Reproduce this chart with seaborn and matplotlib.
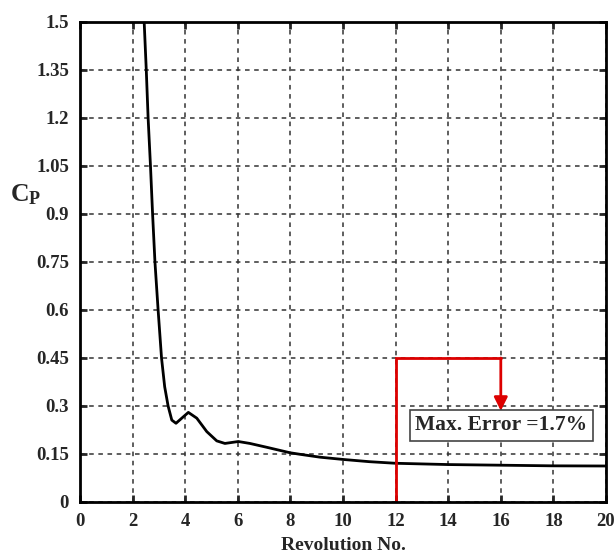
import matplotlib
matplotlib.use("Agg")
import matplotlib.pyplot as plt
import seaborn as sns
import pandas as pd

rev = [2.40, 2.44, 2.52, 2.59, 2.68, 2.76, 2.85, 2.97, 3.10, 3.22, 3.35, 3.49, 3.65,
       3.87, 4.12, 4.44, 4.82, 5.20, 5.51, 6.02, 6.46, 7.10, 7.98, 8.37, 9.13, 10.0,
       11.0, 12.0, 13.0, 14.0, 16.0, 18.0, 20.0]
cp = [1.55, 1.50, 1.35, 1.20, 1.05, 0.90, 0.75, 0.60, 0.45, 0.36, 0.30, 0.256, 0.246,
      0.262, 0.280, 0.262, 0.220, 0.191, 0.183, 0.189, 0.183, 0.171, 0.154, 0.149,
      0.140, 0.133, 0.126, 0.121, 0.119, 0.117, 0.115, 0.113, 0.1125]

x_ticks = [0, 2, 4, 6, 8, 10, 12, 14, 16, 18, 20]
y_ticks = [0, 0.15, 0.3, 0.45, 0.6, 0.75, 0.9, 1.05, 1.2, 1.35, 1.5]
y_tick_labels = ["0", "0.15", "0.3", "0.45", "0.6", "0.75", "0.9", "1.05", "1.2", "1.35", "1.5"]

err_x = [12, 12, 16]
err_y = [0, 0.45, 0.45]
arrow_end = (16, 0.285)
label_text = "Max. Error =1.7%"
label_pos = (16.02, 0.24)

sns.set_style("ticks")
plt.rcParams["font.family"] = ["Liberation Serif", "DejaVu Serif"]
plt.rcParams["font.weight"] = "bold"
plt.rcParams["mathtext.fontset"] = "custom"
plt.rcParams["mathtext.rm"] = "Liberation Serif"
plt.rcParams["mathtext.bf"] = "Liberation Serif:bold"

fig = plt.figure(figsize=(6.16, 5.58), dpi=100)
ax = fig.add_axes([80 / 616, 1 - 502 / 558, 526 / 616, 480 / 558])

df = pd.DataFrame({"rev": rev, "cp": cp})
sns.lineplot(data=df, x="rev", y="cp", ax=ax, color="black", linewidth=2.0, sort=False)

ax.plot(err_x, err_y, color="#dd0000", linewidth=2.0, solid_joinstyle="miter")
ax.annotate("", xy=arrow_end, xytext=(err_x[-1], err_y[-1]),
            arrowprops=dict(arrowstyle="-|>", color="#dd0000", lw=2.0,
                            mutation_scale=20, shrinkA=0, shrinkB=0))
ax.text(label_pos[0], label_pos[1], label_text, ha="center", va="center",
        fontsize=15.5, fontweight="bold",
        bbox=dict(boxstyle="square,pad=0.25", facecolor="white", edgecolor="#444444", lw=1.2))

ax.set_xlim(0, 20)
ax.set_ylim(0, 1.5)
ax.set_xticks(x_ticks)
ax.set_xticklabels([str(v) for v in x_ticks])
ax.set_yticks(y_ticks)
ax.set_yticklabels(y_tick_labels)
ax.grid(True, color="#333333", linestyle=(0, (3, 3)), linewidth=1.1)
ax.tick_params(direction="in", length=5, width=2, top=True, right=True,
               labelsize=13.5, pad=8)
for lab in ax.get_xticklabels() + ax.get_yticklabels():
    lab.set_fontweight("bold")
for s in ax.spines.values():
    s.set_linewidth(2)
    s.set_color("black")

ax.set_xlabel("Revolution No.", fontsize=14, fontweight="bold", labelpad=5)
ax.set_ylabel("")
fig.text(10 / 616, 1 - 195 / 558, r"$\mathbf{C_P}$", fontsize=18.5, ha="left", va="center")

fig.savefig("out.png", dpi=100)
